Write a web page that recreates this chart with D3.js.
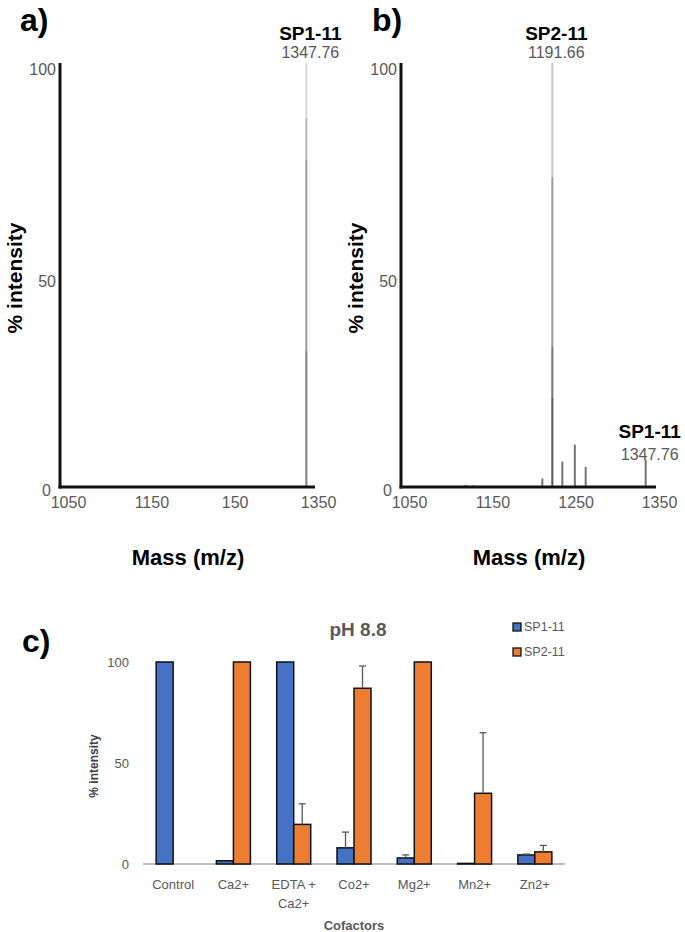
<!DOCTYPE html>
<html>
<head>
<meta charset="utf-8">
<script src="https://cdn.jsdelivr.net/npm/d3@7"></script>
<style>
  html, body { margin: 0; padding: 0; background: #fff; }
  svg { display: block; font-family: "Liberation Sans", Arial, sans-serif; }
</style>
</head>
<body>
<svg id="chart" width="685" height="932"></svg>
<script>
// ---------------- data ----------------
// Panels a) and b): mass spectra (axis units as drawn)
const massTickValues = [1050, 1150, 1250, 1350];
const massTickLabelsA = ["1050", "1150", "150", "1350"];
const massTickLabelsB = ["1050", "1150", "1250", "1350"];
const intensityTicks = [0, 50, 100];

// spectrum a: stacked traces at the SP1-11 peak
const spectrumA_mz = [1336, 1336, 1336, 1336];
const spectrumA_int = [100, 87, 77, 32];

// spectrum b
const spectrumB_mz = [1118, 1127, 1210, 1222, 1222, 1222, 1222, 1234, 1249, 1262, 1334];
const spectrumB_int = [0.5, 0.4, 2, 100, 73, 33, 21, 6, 10, 4.7, 6.5];

const peakLabelsA = [{ name: "SP1-11", mass: "1347.76", mz: 1336 }];
const peakLabelsB = [{ name: "SP2-11", mass: "1191.66", mz: 1222 }, { name: "SP1-11", mass: "1347.76", mz: 1334 }];

// Panel c): bar chart
const cofactors = ["Control", "Ca2+", "EDTA + Ca2+", "Co2+", "Mg2+", "Mn2+", "Zn2+"];
const cofactorLines = [["Control"], ["Ca2+"], ["EDTA +", "Ca2+"], ["Co2+"], ["Mg2+"], ["Mn2+"], ["Zn2+"]];
const seriesNames = ["SP1-11", "SP2-11"];
const sp1Values = [100, 1.6, 100, 8, 3, 0.3, 4.5];
const sp1ErrTop = [null, null, null, 15.8, 4.5, null, 4.9];
const sp2Values = [0, 100, 19.6, 87, 100, 35, 6];
const sp2ErrTop = [null, null, 29.8, 98, null, 65, 9.2];
const barTicks = [0, 50, 100];

// ---------------- drawing ----------------
const svg = d3.select("#chart");
const grey = "#595959";

function spectrumPanel(x0, labels, mzArr, intArr, alphaFn, peakLabels, panelLetter, letterX) {
  const top = 63, bot = 487, len = 255;
  const x = d3.scaleLinear().domain([1050, 1350]).range([x0 + 8, x0 + 258]);
  const y = d3.scaleLinear().domain([0, 100]).range([bot, top]);
  const g = svg.append("g");

  // peaks
  g.selectAll("line.peak").data(mzArr.map((m, i) => ({ m, v: intArr[i] })))
    .enter().append("line")
    .attr("x1", d => x(d.m)).attr("x2", d => x(d.m))
    .attr("y1", y(0)).attr("y2", d => y(d.v))
    .attr("stroke", "#000").attr("stroke-opacity", d => alphaFn(d.v))
    .attr("stroke-width", 2);

  // axes lines (thick black)
  g.append("line").attr("x1", x0).attr("x2", x0).attr("y1", top).attr("y2", bot + 1.5)
    .attr("stroke", "#111").attr("stroke-width", 3);
  g.append("line").attr("x1", x0 - 1.5).attr("x2", x0 + len).attr("y1", bot).attr("y2", bot)
    .attr("stroke", "#111").attr("stroke-width", 3);

  // x tick labels via d3 axis
  const xa = d3.axisBottom(x).tickValues(massTickValues)
    .tickFormat((d, i) => labels[i]).tickSize(0).tickPadding(10);
  const gx = g.append("g").attr("transform", `translate(0,${bot})`).call(xa);
  gx.select(".domain").remove();
  gx.selectAll("text").attr("font-size", 16).attr("fill", grey)
    .attr("font-family", "Liberation Sans, Arial, sans-serif");

  // y tick labels
  const ya = d3.axisLeft(y).tickValues(intensityTicks.filter(v => v > 0))
    .tickFormat(d3.format("d")).tickSize(0).tickPadding(4);
  const gy = g.append("g").attr("transform", `translate(${x0},6)`).call(ya);
  gy.select(".domain").remove();
  gy.selectAll("text").attr("font-size", 16).attr("fill", grey)
    .attr("font-family", "Liberation Sans, Arial, sans-serif");
  g.append("text").attr("x", x0 - 9).attr("y", y(0) + 9).attr("text-anchor", "end")
    .attr("font-size", 16).attr("fill", grey).text(String(intensityTicks[0]));

  // axis titles
  g.append("text").attr("x", x0 + 128).attr("y", 565).attr("text-anchor", "middle")
    .attr("font-size", 22).attr("font-weight", "bold").attr("fill", "#000").text("Mass (m/z)");
  g.append("text").attr("transform", `translate(${x0 - 38},${278}) rotate(-90)`)
    .attr("text-anchor", "middle").attr("font-size", 21).attr("font-weight", "bold")
    .attr("fill", "#000").text("% intensity");

  // panel letter
  g.append("text").attr("x", letterX).attr("y", 31).attr("font-size", 32)
    .attr("font-weight", "bold").attr("fill", "#000").text(panelLetter);

  // peak annotations
  peakLabels.forEach((p, i) => {
    const px = x(p.mz) + 4;
    const yName = i === 0 ? 40 : 438;
    const yMass = i === 0 ? 58 : 460;
    g.append("text").attr("x", px).attr("y", yName).attr("text-anchor", "middle")
      .attr("font-size", 19).attr("font-weight", "bold").attr("fill", "#000").text(p.name);
    g.append("text").attr("x", px).attr("y", yMass).attr("text-anchor", "middle")
      .attr("font-size", 16).attr("fill", grey).text(p.mass);
  });
}

spectrumPanel(60, massTickLabelsA, spectrumA_mz, spectrumA_int, () => 0.15, peakLabelsA, "a)", 20);
spectrumPanel(401, massTickLabelsB, spectrumB_mz, spectrumB_int, v => (v >= 20 ? 0.22 : 0.55), peakLabelsB, "b)", 372);

// ---------------- panel c ----------------
(function () {
  const left = 143, right = 565, y0 = 864, y100 = 662;
  const x = d3.scaleBand().domain(cofactors).range([left, right]).padding(0);
  const y = d3.scaleLinear().domain([0, 100]).range([y0, y100]);
  const bw = 17;
  const colors = ["#4472C4", "#ED7D31"];
  const g = svg.append("g");

  g.append("text").attr("x", 22).attr("y", 652).attr("font-size", 32)
    .attr("font-weight", "bold").attr("fill", "#000").text("c)");

  g.append("text").attr("x", 358).attr("y", 636).attr("text-anchor", "middle")
    .attr("font-size", 19).attr("font-weight", "bold").attr("fill", grey).text("pH 8.8");

  // y tick labels
  const ya = d3.axisLeft(y).tickValues(barTicks).tickFormat(d3.format("d")).tickSize(0).tickPadding(0);
  const gy = g.append("g").attr("transform", `translate(${129},0)`).call(ya);
  gy.select(".domain").remove();
  gy.selectAll("text").attr("font-size", 13).attr("fill", grey)
    .attr("font-family", "Liberation Sans, Arial, sans-serif");

  // baseline
  g.append("line").attr("x1", left).attr("x2", right).attr("y1", y0).attr("y2", y0)
    .attr("stroke", "#bfbfbf").attr("stroke-width", 2);

  const series = [
    { vals: sp1Values, err: sp1ErrTop, off: -bw, color: colors[0] },
    { vals: sp2Values, err: sp2ErrTop, off: 0, color: colors[1] }
  ];
  series.forEach(s => {
    const data = cofactors.map((c, i) => ({ c, v: s.vals[i], e: s.err[i] }));
    g.selectAll(null).data(data.filter(d => d.v > 0)).enter().append("rect")
      .attr("x", d => x(d.c) + x.bandwidth() / 2 + s.off)
      .attr("y", d => y(d.v))
      .attr("width", bw)
      .attr("height", d => y(0) - y(d.v))
      .attr("fill", s.color).attr("stroke", "#111").attr("stroke-width", 1.5);
    const eb = data.filter(d => d.e != null);
    g.selectAll(null).data(eb).enter().append("line")
      .attr("x1", d => x(d.c) + x.bandwidth() / 2 + s.off + bw / 2)
      .attr("x2", d => x(d.c) + x.bandwidth() / 2 + s.off + bw / 2)
      .attr("y1", d => y(d.v)).attr("y2", d => y(d.e))
      .attr("stroke", grey).attr("stroke-width", 1.3);
    g.selectAll(null).data(eb).enter().append("line")
      .attr("x1", d => x(d.c) + x.bandwidth() / 2 + s.off + bw / 2 - 3.5)
      .attr("x2", d => x(d.c) + x.bandwidth() / 2 + s.off + bw / 2 + 3.5)
      .attr("y1", d => y(d.e)).attr("y2", d => y(d.e))
      .attr("stroke", grey).attr("stroke-width", 1.3);
  });

  // category labels
  const xa = d3.axisBottom(x).tickSize(0).tickFormat(() => "");
  const gx = g.append("g").attr("transform", `translate(0,${y0})`).call(xa);
  gx.select(".domain").remove();
  cofactors.forEach((c, i) => {
    const t = g.append("text").attr("x", x(c) + x.bandwidth() / 2).attr("y", 889)
      .attr("text-anchor", "middle").attr("font-size", 13).attr("fill", grey);
    cofactorLines[i].forEach((ln, j) => {
      t.append("tspan").attr("x", x(c) + x.bandwidth() / 2).attr("dy", j === 0 ? 0 : 19).text(ln);
    });
  });

  g.append("text").attr("x", 354).attr("y", 930).attr("text-anchor", "middle")
    .attr("font-size", 13).attr("font-weight", "bold").attr("fill", grey).text("Cofactors");

  g.append("text").attr("transform", `translate(${98},${766}) rotate(-90)`)
    .attr("text-anchor", "middle").attr("font-size", 12).attr("font-weight", "bold")
    .attr("fill", "#404040").text("% intensity");

  // legend
  seriesNames.forEach((n, i) => {
    const ly = 623 + i * 25;
    g.append("rect").attr("x", 513).attr("y", ly).attr("width", 8).attr("height", 8)
      .attr("fill", colors[i]).attr("stroke", "#111").attr("stroke-width", 1.3);
    g.append("text").attr("x", 524).attr("y", ly + 8).attr("font-size", 12.5)
      .attr("fill", grey).text(n);
  });
})();
</script>
</body>
</html>
